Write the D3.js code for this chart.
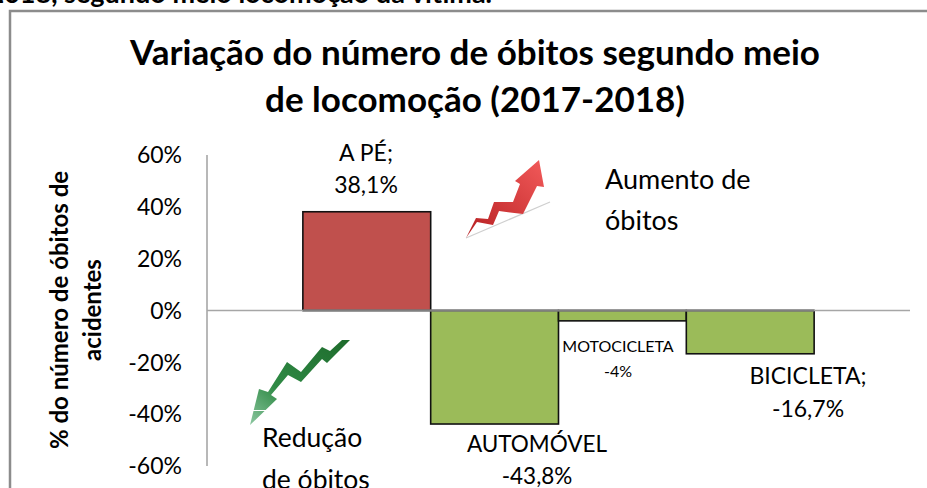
<!DOCTYPE html>
<html>
  <head>
    <meta charset="utf-8" />
    <title>Variação do número de óbitos</title>
    <script src="https://cdn.jsdelivr.net/npm/d3@7"></script>
    <style type="text/css">
      html, body { margin: 0; padding: 0; background: #fff; overflow: hidden; }
      text { font-family: Lato, "Open Sans", sans-serif; fill: #000; }
    </style>
  </head>
  <body>
    <svg id="chart" width="927" height="488"></svg>
    <script type="text/javascript">
      var categories = ['A PÉ', 'AUTOMÓVEL', 'MOTOCICLETA', 'BICICLETA'];
      var values = [38.1, -43.8, -4, -16.7];
      var tickValues = [60, 40, 20, 0, -20, -40, -60];
      var barColors = ['#c0504d', '#9bbb59', '#9bbb59', '#9bbb59'];
      var labelLines = [['A PÉ;', '38,1%'], ['AUTOMÓVEL', '-43,8%'], ['MOTOCICLETA', '-4%'], ['BICICLETA;', '-16,7%']];

      var svg = d3.select('#chart');

      var x = d3.scaleBand().domain(categories).range([207, 910]).paddingInner(0).paddingOuter(0.75);
      var y = d3.scaleLinear().domain([-60, 60]).range([466, 155]);

      // moldura e linha de cima (recortada)
      svg.append('path').attr('d', 'M10,488V11H927').attr('fill', 'none').attr('stroke', '#8c8c8c').attr('stroke-width', 2.5);
      svg.append('text').attr('x', 492).attr('y', 3).attr('text-anchor', 'end').attr('font-size', 27).attr('font-weight', 700)
        .text('2018, segundo meio locomoção da vítima.');

      // titulo
      var title = ['Variação do número de óbitos segundo meio', 'de locomoção (2017-2018)'];
      svg.selectAll('.title').data(title).enter().append('text').attr('class', 'title')
        .attr('x', 475).attr('y', (d, i) => 65 + i * 47)
        .attr('text-anchor', 'middle').attr('font-size', 35).attr('font-weight', 700)
        .text((d) => d);

      // eixo y
      svg.append('line').attr('x1', 207).attr('x2', 207).attr('y1', y(60)).attr('y2', y(-60))
        .attr('stroke', '#a0a0a0').attr('stroke-width', 1.5);
      svg.selectAll('.tick-label').data(tickValues).enter().append('text').attr('class', 'tick-label')
        .attr('x', 182).attr('y', (d) => y(d)).attr('dy', '0.36em')
        .attr('text-anchor', 'end').attr('font-size', 23)
        .text((d) => d + '%');

      var yTitle = svg.append('g').attr('transform', 'translate(68,310) rotate(-90)');
      yTitle.append('text').attr('text-anchor', 'middle').attr('font-size', 24).attr('font-weight', 700).text('% do número de óbitos de');
      yTitle.append('text').attr('y', 33).attr('text-anchor', 'middle').attr('font-size', 24).attr('font-weight', 700).text('acidentes');

      // barras
      svg.selectAll('.bar').data(categories).enter().append('rect').attr('class', 'bar')
        .attr('x', (d) => x(d))
        .attr('width', x.bandwidth())
        .attr('y', (d, i) => y(Math.max(values[i], 0)))
        .attr('height', (d, i) => Math.abs(y(values[i]) - y(0)))
        .attr('fill', (d, i) => barColors[i])
        .attr('stroke', '#111').attr('stroke-width', 1.6);

      // linha do zero
      svg.append('line').attr('x1', 207).attr('x2', 910).attr('y1', y(0)).attr('y2', y(0))
        .attr('stroke', '#a6a6a6').attr('stroke-width', 1.5);
      svg.append('line').attr('x1', x(categories[0])).attr('x2', x(categories[3]) + x.bandwidth())
        .attr('y1', y(0)).attr('y2', y(0)).attr('stroke', '#808080').attr('stroke-width', 2);

      // rotulos
      var labelPos = [[366, 161, 23], [537, 452, 22.5], [618, 352, 16], [808, 384, 23]];
      var labelGap = [32, 32, 25, 33];
      labelLines.forEach(function (lines, i) {
        svg.selectAll('.lab' + i).data(lines).enter().append('text').attr('class', 'lab' + i)
          .attr('x', labelPos[i][0]).attr('y', (d, j) => labelPos[i][1] + j * labelGap[i])
          .attr('text-anchor', 'middle').attr('font-size', labelPos[i][2])
          .text((d) => d);
      });

      // anotacoes
      svg.append('text').attr('x', 605).attr('y', 189).attr('font-size', 27).text('Aumento de');
      svg.append('text').attr('x', 605).attr('y', 230).attr('font-size', 27).text('óbitos');
      svg.append('text').attr('x', 262).attr('y', 447).attr('font-size', 26.5).text('Redução');
      svg.append('text').attr('x', 262).attr('y', 489).attr('font-size', 26.5).text('de óbitos');

      // setas
      var defs = svg.append('defs');
      var gr = defs.append('linearGradient').attr('id', 'red').attr('x1', 0).attr('y1', 1).attr('x2', 1).attr('y2', 0);
      gr.append('stop').attr('offset', 0).attr('stop-color', '#b51e20');
      gr.append('stop').attr('offset', 1).attr('stop-color', '#f25a5a');
      var gg = defs.append('linearGradient').attr('id', 'green').attr('x1', 1).attr('y1', 0).attr('x2', 0).attr('y2', 1);
      gg.append('stop').attr('offset', 0).attr('stop-color', '#1e6b2c');
      gg.append('stop').attr('offset', 0.65).attr('stop-color', '#2f8a45');
      gg.append('stop').attr('offset', 1).attr('stop-color', '#8cc7a0');
      svg.append('path').attr('fill', 'none').attr('stroke', '#cfcfcf').attr('stroke-width', 1.2).attr('d', 'M466,238L550,202');
      svg.append('path').attr('fill', 'url(#red)')
        .attr('d', 'M466,238L476,218L488,219L494,202L513,202L520,184L515,181L539,160L544,187L537,186L523,214L499,211L493,225L477,222Z');
      svg.append('path').attr('fill', 'url(#green)')
        .attr('d', 'M350,340L342,340L330,351L322,347L301,372L287,362L268,392L259,389L250,425L277,399L271,395L288,375L301,382L322,359L327,363Z');
      svg.append('line').attr('x1', 252).attr('x2', 268).attr('y1', 410.5).attr('y2', 410.5).attr('stroke', '#fff').attr('stroke-width', 1);
    </script>
  </body>
</html>
